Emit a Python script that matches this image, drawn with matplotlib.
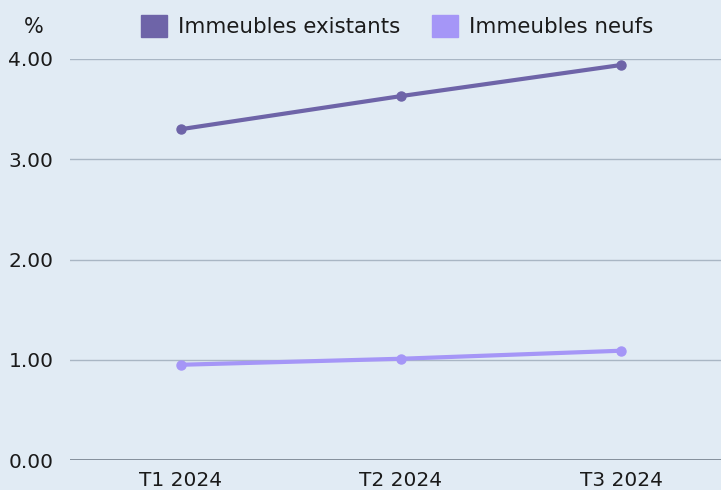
import numpy as np
import matplotlib.pyplot as plt
from matplotlib.patches import Patch

categories = ["T1 2024", "T2 2024", "T3 2024"]
existants = [3.30, 3.63, 3.94]
neufs = [0.95, 1.01, 1.09]
yticks = [0, 1, 2, 3, 4]

bg = "#e1ebf4"
c_exist = "#6e64a8"
c_neuf = "#a596f7"

plt.rcParams["font.family"] = ["DejaVu Sans"]

fig = plt.figure(figsize=(7.21, 4.90), dpi=100)
fig.patch.set_facecolor(bg)
ax = fig.add_axes([70 / 721, 30 / 490, 651 / 721, 401 / 490])
ax.set_facecolor(bg)

x = np.arange(len(categories))
ax.plot(x, existants, color=c_exist, lw=3, marker="o", ms=6.5, solid_capstyle="round", zorder=3)
ax.plot(x, neufs, color=c_neuf, lw=3, marker="o", ms=6.5, solid_capstyle="round", zorder=3)

ax.set_xlim(-111 / 220, 2 + 100 / 220)
ax.set_ylim(0, 4)
ax.set_yticks(yticks)
ax.set_yticklabels([f"{v:.2f}" for v in yticks])
ax.set_xticks(x)
ax.set_xticklabels(categories)
ax.tick_params(length=0, labelsize=14.5, colors="#1a1a1a")
ax.tick_params(axis="x", pad=8)
ax.tick_params(axis="y", pad=12)

for v in yticks[1:]:
    ax.axhline(v, color="#a9b6c4", lw=1, zorder=1)
ax.axhline(0, color="#7d8894", lw=1.3, zorder=2)
for s in ax.spines.values():
    s.set_visible(False)

fig.text(24 / 721, 1 - 27 / 490, "%", fontsize=15, ha="left", va="center", color="#1a1a1a")

handles = [Patch(color=c_exist, label="Immeubles existants"),
           Patch(color=c_neuf, label="Immeubles neufs")]
fig.legend(handles=handles, loc="center", bbox_to_anchor=(397 / 721, 1 - 26 / 490),
           ncol=2, frameon=False, fontsize=15.4, handlelength=1.22, handleheight=1.22,
           handletextpad=0.5, columnspacing=1.5, borderpad=0, borderaxespad=0)
for t in fig.legends[0].get_texts():
    t.set_color("#1a1a1a")

fig.savefig("out.png", dpi=100, facecolor=bg)
